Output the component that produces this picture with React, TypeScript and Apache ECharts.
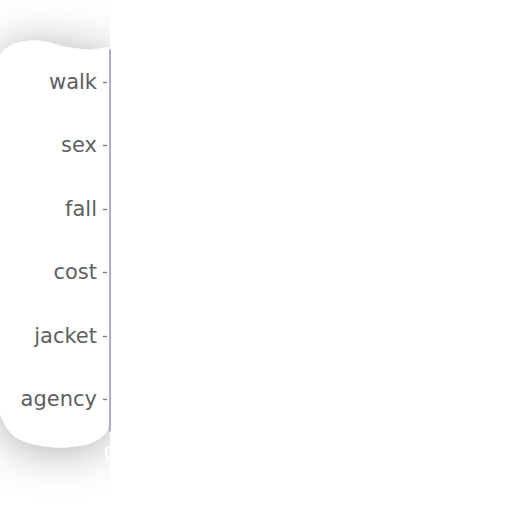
import React, { useEffect, useRef } from "react";
import * as echarts from "echarts";

// categories, bottom to top as the category axis lays them out
const categories = ["agency", "jacket", "cost", "fall", "sex", "walk"];
// bar values (the bars are drawn white on white, so they are not readable)
const values = [12, 18, 9, 22, 15, 20];
const xTicks = [0, 5, 10, 15, 20, 25, 30];

function App() {
  const chartRef = useRef<HTMLDivElement>(null);

  useEffect(() => {
    document.body.style.margin = "0";
    if (!chartRef.current) return;
    const chart = echarts.init(chartRef.current, undefined, { renderer: "svg" });
    const options: echarts.EChartsOption = {
      animation: false,
      backgroundColor: "#fff",
      textStyle: { fontFamily: "DejaVu Sans" },
      graphic: [
        {
          type: "polygon",
          z: -2,
          silent: true,
          shape: {
            smooth: 0.3,
            points: [
              [114, 50],
              [90, 50],
              [66, 47],
              [46, 42],
              [28, 41],
              [10, 46],
              [-2, 60],
              [-3, 250],
              [-2, 405],
              [14, 436],
              [50, 447],
              [88, 444],
              [106, 432],
              [114, 400],
              [114, 200],
            ],
          },
          style: {
            fill: "#fff",
            shadowBlur: 46,
            shadowColor: "rgba(0,0,0,0.32)",
            shadowOffsetY: 4,
          },
        },
        {
          type: "rect",
          z: -1,
          silent: true,
          shape: { x: 110, y: 0, width: 402, height: 512 },
          style: { fill: "#fff" },
        },
      ],
      grid: { left: 110, right: 20, top: 50, bottom: 81 },
      xAxis: {
        type: "value",
        min: xTicks[0],
        max: xTicks[xTicks.length - 1],
        interval: xTicks[1] - xTicks[0],
        splitLine: { show: false },
        axisLine: { show: false },
        axisTick: { show: false },
        axisLabel: { color: "#ffffff", fontSize: 20, margin: 12 },
      },
      yAxis: {
        type: "category",
        data: categories,
        axisLine: { show: true, lineStyle: { color: "#9a9ac0", width: 1.6 } },
        axisTick: {
          show: true,
          alignWithLabel: true,
          length: 7,
          lineStyle: { color: "#7a7a7a", width: 1.4, type: [4, 3], dashOffset: 4 },
        },
        axisLabel: { color: "#606060", fontSize: 21, margin: 13 },
      },
      series: [
        {
          type: "bar",
          z: -0.5,
          data: values,
          itemStyle: { color: "#ffffff" },
        },
      ],
    };
    chart.setOption(options);
    return () => {
      chart.dispose();
    };
  }, []);

  return <div ref={chartRef} style={{ width: "512px", height: "512px" }} />;
}

export default App;
